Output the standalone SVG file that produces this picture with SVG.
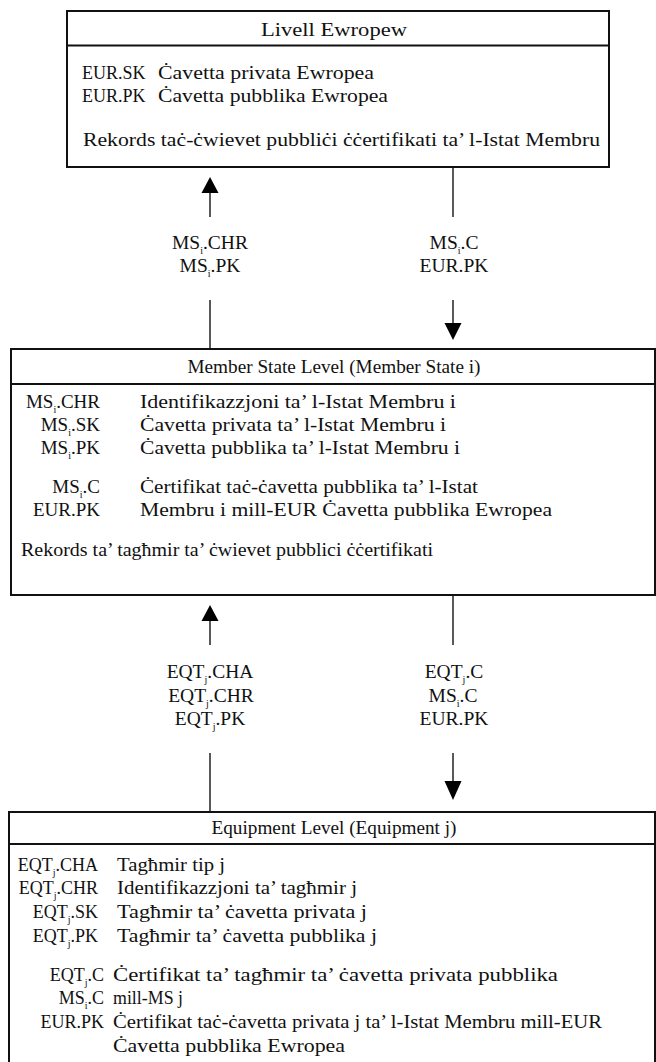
<svg xmlns="http://www.w3.org/2000/svg" width="656" height="1062" viewBox="0 0 656 1062">
<style>
text{font-family:"Liberation Serif","Times New Roman",serif;font-size:19px;fill:#111}
.c{text-anchor:middle}
.e{text-anchor:end}
.k{font-size:18px}
.q{font-size:19.5px}
.s{font-size:10px}
.box{fill:#fff;stroke:#111;stroke-width:2}
.hl{stroke:#111;stroke-width:2}
.ln{stroke:#222;stroke-width:1.5;fill:none}
.ah{fill:#000}
</style>
<rect width="656" height="1062" fill="#fff"/>
<g id="connectors">
<line class="ln" x1="210" y1="192" x2="210" y2="217"/>
<polygon class="ah" points="210,177 201.5,193 218.5,193"/>
<line class="ln" x1="453" y1="167" x2="453" y2="217"/>
<line class="ln" x1="210" y1="300" x2="210" y2="349"/>
<line class="ln" x1="453" y1="300" x2="453" y2="324"/>
<polygon class="ah" points="453,340 444.5,323 461.5,323"/>
<line class="ln" x1="210" y1="620" x2="210" y2="645"/>
<polygon class="ah" points="210,605 201.5,621 218.5,621"/>
<line class="ln" x1="453" y1="596" x2="453" y2="645"/>
<line class="ln" x1="210" y1="753" x2="210" y2="812"/>
<line class="ln" x1="453" y1="753" x2="453" y2="782"/>
<polygon class="ah" points="453,800 444.5,781 461.5,781"/>
<text class="c q" x="210" y="249">MS<tspan class="s" dy="5">i</tspan><tspan dy="-5">.CHR</tspan></text>
<text class="c q" x="210" y="272">MS<tspan class="s" dy="5">i</tspan><tspan dy="-5">.PK</tspan></text>
<text class="c q" x="454" y="249">MS<tspan class="s" dy="5">i</tspan><tspan dy="-5">.C</tspan></text>
<text class="c q" x="454" y="272">EUR.PK</text>
<text class="c q" x="210" y="678">EQT<tspan class="s" dy="5">j</tspan><tspan dy="-5">.CHA</tspan></text>
<text class="c q" x="211" y="702">EQT<tspan class="s" dy="5">j</tspan><tspan dy="-5">.CHR</tspan></text>
<text class="c q" x="210" y="725">EQT<tspan class="s" dy="5">j</tspan><tspan dy="-5">.PK</tspan></text>
<text class="c q" x="454" y="678">EQT<tspan class="s" dy="5">j</tspan><tspan dy="-5">.C</tspan></text>
<text class="c q" x="453" y="702">MS<tspan class="s" dy="5">i</tspan><tspan dy="-5">.C</tspan></text>
<text class="c q" x="454" y="725">EUR.PK</text>
</g>
<g id="europe">
<rect class="box" x="67" y="11" width="542" height="156"/>
<line class="hl" x1="67" y1="45.5" x2="609" y2="45.5"/>
<text class="c" x="334" y="36" textLength="146" lengthAdjust="spacingAndGlyphs">Livell Ewropew</text>
<text class="k" x="82" y="79">EUR.SK</text>
<text x="158" y="79" textLength="216" lengthAdjust="spacingAndGlyphs">Ċavetta privata Ewropea</text>
<text class="k" x="82" y="102">EUR.PK</text>
<text x="158" y="102" textLength="230" lengthAdjust="spacingAndGlyphs">Ċavetta pubblika Ewropea</text>
<text x="83" y="146" textLength="517" lengthAdjust="spacingAndGlyphs">Rekords taċ-ċwievet pubbliċi ċċertifikati ta’ l-Istat  Membru</text>
</g>
<g id="memberstate">
<rect class="box" x="11" y="349" width="644" height="246"/>
<line class="hl" x1="11" y1="384" x2="655" y2="384"/>
<text class="c" x="334" y="373" textLength="293" lengthAdjust="spacingAndGlyphs">Member State Level (Member State i)</text>
<text class="e" x="100" y="408">MS<tspan class="s" dy="5">i</tspan><tspan dy="-5">.CHR</tspan></text>
<text class="e" x="100" y="431">MS<tspan class="s" dy="5">i</tspan><tspan dy="-5">.SK</tspan></text>
<text class="e" x="100" y="454">MS<tspan class="s" dy="5">i</tspan><tspan dy="-5">.PK</tspan></text>
<text class="e" x="100" y="493">MS<tspan class="s" dy="5">i</tspan><tspan dy="-5">.C</tspan></text>
<text class="e" x="100" y="516">EUR.PK</text>
<text x="140" y="408" textLength="316" lengthAdjust="spacingAndGlyphs">Identifikazzjoni ta’ l-Istat Membru i</text>
<text x="140" y="431" textLength="306" lengthAdjust="spacingAndGlyphs">Ċavetta privata ta’ l-Istat Membru i</text>
<text x="140" y="454" textLength="320" lengthAdjust="spacingAndGlyphs">Ċavetta pubblika ta’ l-Istat Membru i</text>
<text x="140" y="493" textLength="338" lengthAdjust="spacingAndGlyphs">Ċertifikat taċ-ċavetta pubblika ta’ l-Istat</text>
<text x="140" y="516" textLength="412" lengthAdjust="spacingAndGlyphs">Membru i mill-EUR Ċavetta pubblika Ewropea</text>
<text x="21" y="556" textLength="412" lengthAdjust="spacingAndGlyphs">Rekords ta’ tagħmir ta’ ċwievet pubblici ċċertifikati</text>
</g>
<g id="equipment">
<rect class="box" x="9" y="812" width="646" height="270"/>
<line class="hl" x1="9" y1="844" x2="655" y2="844"/>
<text class="c" x="334" y="834" textLength="245" lengthAdjust="spacingAndGlyphs">Equipment Level (Equipment j)</text>
<text class="e k" x="98" y="871">EQT<tspan class="s" dy="5">j</tspan><tspan dy="-5">.CHA</tspan></text>
<text class="e k" x="98" y="894">EQT<tspan class="s" dy="5">j</tspan><tspan dy="-5">.CHR</tspan></text>
<text class="e k" x="98" y="918">EQT<tspan class="s" dy="5">j</tspan><tspan dy="-5">.SK</tspan></text>
<text class="e k" x="98" y="942">EQT<tspan class="s" dy="5">j</tspan><tspan dy="-5">.PK</tspan></text>
<text class="e k" x="104" y="981">EQT<tspan class="s" dy="5">j</tspan><tspan dy="-5">.C</tspan></text>
<text class="e k" x="104" y="1004">MS<tspan class="s" dy="5">i</tspan><tspan dy="-5">.C</tspan></text>
<text class="e k" x="104" y="1028">EUR.PK</text>
<text x="117" y="871" textLength="108" lengthAdjust="spacingAndGlyphs">Tagħmir tip j</text>
<text x="117" y="894" textLength="240" lengthAdjust="spacingAndGlyphs">Identifikazzjoni ta’ tagħmir j</text>
<text x="117" y="918" textLength="250" lengthAdjust="spacingAndGlyphs">Tagħmir ta’ ċavetta privata j</text>
<text x="117" y="942" textLength="260" lengthAdjust="spacingAndGlyphs">Tagħmir ta’ ċavetta pubblika j</text>
<text x="113" y="981" textLength="445" lengthAdjust="spacingAndGlyphs">Ċertifikat ta’ tagħmir ta’ ċavetta privata pubblika</text>
<text x="113" y="1004" textLength="70" lengthAdjust="spacingAndGlyphs">mill-MS j</text>
<text x="113" y="1028" textLength="489" lengthAdjust="spacingAndGlyphs">Ċertifikat taċ-ċavetta privata j ta’ l-Istat Membru mill-EUR</text>
<text x="113" y="1052" textLength="232" lengthAdjust="spacingAndGlyphs">Ċavetta pubblika Ewropea</text>
</g>
</svg>
